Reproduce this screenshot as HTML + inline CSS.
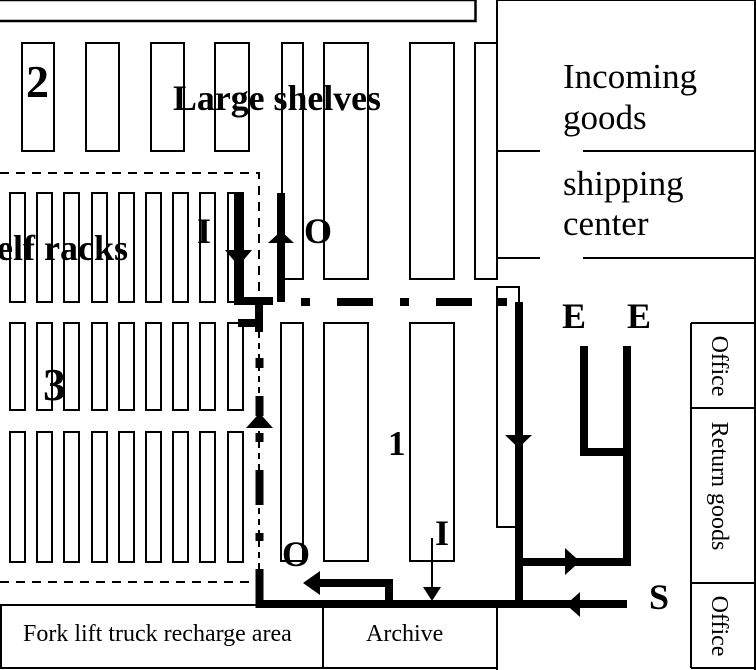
<!DOCTYPE html>
<html><head><meta charset="utf-8"><style>
html,body{margin:0;padding:0;background:#fff;}
svg{display:block;}
text{font-family:"Liberation Serif","Times New Roman",serif;fill:#000;}
.b{font-weight:bold;}
</style></head><body>
<svg width="756" height="670" viewBox="0 0 756 670" xmlns="http://www.w3.org/2000/svg">
<rect width="756" height="670" fill="#fff"/>

<!-- thin structural lines -->
<g fill="none" stroke="#000" stroke-width="2">
  <!-- top box -->
  <rect x="-5" y="0" width="480.5" height="21" stroke-width="2.5"/>
  <line x1="497" y1="0" x2="756" y2="0"/>
  <line x1="755" y1="0" x2="755" y2="670"/>
  <line x1="497" y1="0" x2="497" y2="279"/>

  <!-- large shelves -->
  <rect x="22" y="43" width="32" height="108"/>
  <rect x="86" y="43" width="33" height="108"/>
  <rect x="151" y="43" width="33" height="108"/>
  <rect x="215" y="43" width="34" height="108"/>
  <rect x="282" y="43" width="21" height="236"/>
  <rect x="324" y="43" width="44" height="236"/>
  <rect x="410" y="43" width="44" height="236"/>
  <rect x="475" y="43" width="22" height="236"/>

  <!-- right panel -->
  <line x1="497" y1="151" x2="540" y2="151"/>
  <line x1="583" y1="151" x2="756" y2="151"/>
  <line x1="497" y1="258" x2="540" y2="258"/>
  <line x1="583" y1="258" x2="756" y2="258"/>

  <!-- shelf racks area 3 -->
  <g>
    <rect x="10" y="193" width="15" height="109"/>
    <rect x="37" y="193" width="15" height="109"/>
    <rect x="64" y="193" width="15" height="109"/>
    <rect x="92" y="193" width="15" height="109"/>
    <rect x="119" y="193" width="15" height="109"/>
    <rect x="146" y="193" width="15" height="109"/>
    <rect x="173" y="193" width="15" height="109"/>
    <rect x="200" y="193" width="15" height="109"/>
    <rect x="228" y="193" width="15" height="109"/>

    <rect x="10" y="323" width="15" height="87"/>
    <rect x="37" y="323" width="15" height="87"/>
    <rect x="64" y="323" width="15" height="87"/>
    <rect x="92" y="323" width="15" height="87"/>
    <rect x="119" y="323" width="15" height="87"/>
    <rect x="146" y="323" width="15" height="87"/>
    <rect x="173" y="323" width="15" height="87"/>
    <rect x="200" y="323" width="15" height="87"/>
    <rect x="228" y="323" width="15" height="87"/>

    <rect x="10" y="432" width="15" height="130"/>
    <rect x="37" y="432" width="15" height="130"/>
    <rect x="64" y="432" width="15" height="130"/>
    <rect x="92" y="432" width="15" height="130"/>
    <rect x="119" y="432" width="15" height="130"/>
    <rect x="146" y="432" width="15" height="130"/>
    <rect x="173" y="432" width="15" height="130"/>
    <rect x="200" y="432" width="15" height="130"/>
    <rect x="228" y="432" width="15" height="130"/>
  </g>

  <!-- area 1 shelves -->
  <rect x="281" y="323" width="22" height="238"/>
  <rect x="324" y="323" width="44" height="238"/>
  <rect x="410" y="323" width="44" height="238"/>
  <rect x="497" y="287" width="22" height="240"/>

  <!-- dashed area border -->
  <path d="M0 173 H259 V297" stroke-dasharray="9 7"/>
  <line x1="0" y1="582" x2="256" y2="582" stroke-dasharray="9 7"/>
  <line x1="259" y1="332" x2="259" y2="569" stroke-dasharray="6 5"/>

  <!-- bottom boxes -->
  <line x1="0" y1="605" x2="497" y2="605"/>
  <line x1="0" y1="668" x2="497" y2="668"/>
  <line x1="1" y1="605" x2="1" y2="668"/>
  <line x1="323" y1="605" x2="323" y2="668"/>
  <line x1="497" y1="605" x2="497" y2="670"/>

  <!-- office column -->
  <line x1="691" y1="323" x2="691" y2="668"/>
  <line x1="691" y1="323" x2="756" y2="323"/>
  <line x1="691" y1="408" x2="756" y2="408"/>
  <line x1="691" y1="583" x2="756" y2="583"/>
  <line x1="691" y1="668" x2="756" y2="668"/>

  <!-- thin I arrow -->
  <line x1="432" y1="538" x2="432" y2="590"/>
</g>

<!-- thick paths -->
<g fill="none" stroke="#000" stroke-width="8" stroke-linecap="butt" stroke-linejoin="miter">
  <path d="M238 193 V301 H273"/>
  <path d="M259 297 V332"/>
  <path d="M238 323 H263"/>
  <path d="M281 302 V193"/>
  <!-- dash-dot horizontal -->
  <line x1="301" y1="302" x2="310" y2="302"/>
  <line x1="337" y1="302" x2="373" y2="302"/>
  <line x1="400" y1="302" x2="409" y2="302"/>
  <line x1="436" y1="302" x2="472" y2="302"/>
  <line x1="498" y1="302" x2="507" y2="302"/>
  <!-- dash-dot vertical -->
  <line x1="259.5" y1="358" x2="259.5" y2="368"/>
  <line x1="259.5" y1="396" x2="259.5" y2="416"/>
  <line x1="259.5" y1="433" x2="259.5" y2="442"/>
  <line x1="259.5" y1="470" x2="259.5" y2="505"/>
  <line x1="259.5" y1="533" x2="259.5" y2="541"/>
  <!-- main route -->
  <path d="M519 302 V604"/>
  <path d="M259.5 569 V604 H627"/>
  <path d="M519 562 H627 V346"/>
  <path d="M584 346 V452 H627"/>
  <path d="M389 600 V583 H318"/>
</g>

<!-- arrowheads -->
<g fill="#000" stroke="none">
  <polygon points="225,250 252,250 238.5,266"/>
  <polygon points="268,243 294,243 281,231"/>
  <polygon points="246,428 273,428 259.5,413"/>
  <polygon points="505,435 532,435 518.5,448"/>
  <polygon points="565,548 565,575 580,561.5"/>
  <polygon points="580,592 580,617 566,604.5"/>
  <polygon points="320,571 320,595 303,583"/>
  <polygon points="423,587 441,587 432,601"/>
</g>

<!-- labels -->
<text class="b" x="26" y="97" font-size="46">2</text>
<text class="b" x="43" y="400" font-size="46">3</text>
<text class="b" x="173" y="110" font-size="36" textLength="208" lengthAdjust="spacingAndGlyphs">Large shelves</text>
<text class="b" x="-43" y="260" font-size="36" textLength="171" lengthAdjust="spacingAndGlyphs">Shelf racks</text>
<text class="b" x="197" y="243" font-size="36">I</text>
<text class="b" x="304" y="243" font-size="36">O</text>
<text class="b" x="388" y="455" font-size="35">1</text>
<text class="b" x="435" y="545" font-size="36">I</text>
<text class="b" x="282" y="566" font-size="36">O</text>
<text class="b" x="562" y="328" font-size="36">E</text>
<text class="b" x="627" y="328" font-size="36">E</text>
<text class="b" x="649" y="609" font-size="36">S</text>

<text x="563" y="88" font-size="35">Incoming</text>
<text x="563" y="129" font-size="35">goods</text>
<text x="563" y="195" font-size="35">shipping</text>
<text x="563" y="235" font-size="35">center</text>

<text x="23" y="641" font-size="24">Fork lift truck recharge area</text>
<text x="366" y="641" font-size="24">Archive</text>

<text transform="translate(712,366) rotate(90)" text-anchor="middle" font-size="24">Office</text>
<text transform="translate(712,486) rotate(90)" text-anchor="middle" font-size="24">Return goods</text>
<text transform="translate(712,626) rotate(90)" text-anchor="middle" font-size="24">Office</text>
</svg>
</body></html>
